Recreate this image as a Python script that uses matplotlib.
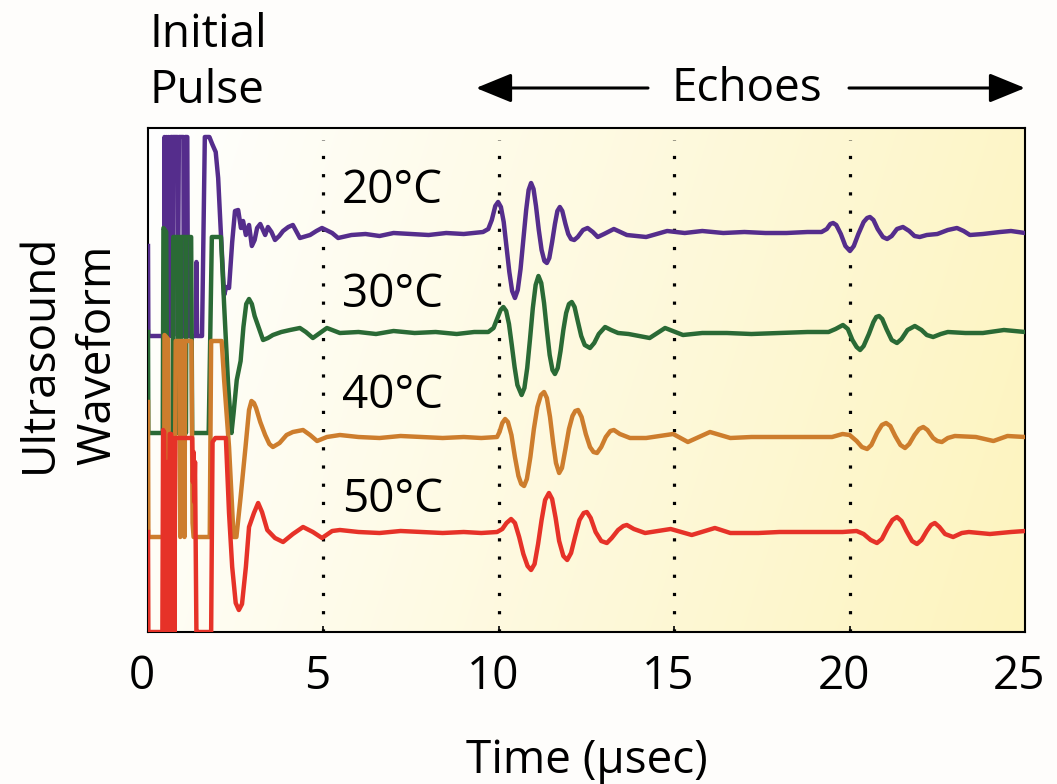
import numpy as np
import matplotlib
matplotlib.use("Agg")
import matplotlib.pyplot as plt
from matplotlib.patches import FancyArrowPatch
from matplotlib.transforms import ScaledTranslation

plt.rcParams['font.family'] = ['Open Sans', 'DejaVu Sans']

# --- oscilloscope traces (time in usec, amplitude relative to each trace's baseline) ---
t_20 = [0, 0.01, 0.46, 0.47, 0.50, 0.53, 0.56, 0.59, 0.62, 0.65, 0.69, 0.70, 0.72, 0.84, 0.85,
        0.88, 1.01, 1.02, 1.06, 1.12, 1.14, 1.36, 1.38, 1.40, 1.54, 1.62, 1.75, 1.83, 1.93, 2.00,
        2.07, 2.17, 2.23, 2.31, 2.40, 2.48, 2.57, 2.65, 2.71, 2.79, 2.88, 2.96, 3.04, 3.11, 3.20,
        3.34, 3.42, 3.52, 3.62, 3.74, 3.85, 4.00, 4.13, 4.33, 4.62, 4.80, 4.96, 5.25, 5.42, 5.8,
        6.2, 6.6, 7.0, 7.5, 8.0, 8.5, 9.0, 9.55,
        9.70, 9.80, 9.90, 9.98, 10.06, 10.14, 10.22, 10.30, 10.38, 10.46, 10.54, 10.62, 10.70,
        10.78, 10.85, 10.92, 10.99, 11.06, 11.14, 11.22, 11.30, 11.37, 11.44, 11.52, 11.60, 11.67,
        11.74, 11.81, 11.90, 11.98, 12.06, 12.15, 12.25, 12.40, 12.53, 12.68, 12.82, 13.0, 13.28,
        13.65, 14.2, 14.8, 15.3, 15.8, 16.4, 17.0, 17.6, 18.2, 18.8,
        19.2, 19.35, 19.45, 19.53, 19.62, 19.75, 19.88, 20.01, 20.12, 20.25, 20.40, 20.50, 20.58,
        20.68, 20.80, 20.95, 21.07, 21.20, 21.35, 21.52, 21.70, 21.85, 22.0, 22.2, 22.5, 22.8,
        23.06, 23.25, 23.43, 23.8, 24.29, 24.6, 25.0]
v_20 = [-0.14, -1.04, -1.04, 0.95, -1.04, 0.95, -1.04, 0.95, -1.04, 0.95, 0.95, -1.04, 0.95, 0.95, -1.04,
        0.95, 0.95, -1.04, 0.95, 0.95, -1.04, -1.04, -0.30, -1.04, -1.04, 0.95, 0.95, 0.88, 0.80, 0.54,
        0.04, -0.63, -0.55, -0.56, -0.10, 0.21, 0.22, 0.04, 0.11, -0.03, 0.07, -0.14, -0.08, 0.04, 0.08,
        -0.03, 0.05, 0.00, -0.08, -0.04, 0.01, 0.05, 0.07, -0.06, -0.03, 0.01, 0.04, -0.01, -0.06, -0.03,
        -0.02, -0.04, -0.01, -0.02, -0.03, -0.01, -0.02, 0.00,
        0.03, 0.12, 0.26, 0.30, 0.25, 0.10, -0.15, -0.40, -0.59, -0.66, -0.58, -0.37, -0.08,
        0.22, 0.42, 0.49, 0.43, 0.26, 0.02, -0.18, -0.29, -0.31, -0.26, -0.10, 0.08, 0.21,
        0.25, 0.21, 0.08, -0.02, -0.07, -0.08, -0.05, 0.02, 0.04, 0.00, -0.05, -0.02, 0.03,
        -0.03, -0.05, 0.01, -0.01, 0.01, -0.01, 0.00, -0.01, -0.01, 0.00,
        0.00, 0.03, 0.08, 0.09, 0.07, -0.02, -0.14, -0.19, -0.14, -0.02, 0.10, 0.14, 0.15,
        0.12, 0.03, -0.05, -0.07, -0.04, 0.03, 0.05, 0.01, -0.04, -0.05, -0.03, -0.02, 0.02,
        0.04, 0.01, -0.03, -0.02, 0.00, 0.01, -0.01]

t_30 = [0, 0.01, 0.42, 0.44, 0.52, 0.55, 0.70, 0.72, 0.84, 0.85, 0.87, 0.91, 0.92, 0.94, 1.07,
        1.08, 1.10, 1.23, 1.26, 1.73, 1.82, 2.08, 2.17, 2.28, 2.38, 2.44, 2.53, 2.64, 2.72, 2.80,
        2.88, 2.96, 3.04, 3.16, 3.28, 3.42, 3.56, 3.80, 4.05, 4.33, 4.50, 4.70, 4.90, 5.10, 5.47,
        6.0, 6.5, 7.0, 7.6, 8.2, 8.8, 9.3, 9.70,
        9.85, 9.95, 10.05, 10.13, 10.21, 10.29, 10.37, 10.45, 10.53, 10.65, 10.73, 10.81, 10.89,
        10.97, 11.05, 11.13, 11.21, 11.29, 11.37, 11.45, 11.53, 11.60, 11.68, 11.76, 11.84, 11.92,
        12.00, 12.08, 12.16, 12.25, 12.35, 12.45, 12.60, 12.72, 12.85, 13.03, 13.2, 13.4,
        13.7, 14.3, 14.74, 15.25, 15.8, 16.5, 17.2, 18.0, 18.8,
        19.4, 19.6, 19.81, 19.95, 20.08, 20.20, 20.30, 20.40, 20.55, 20.68, 20.76, 20.84, 20.93,
        21.05, 21.20, 21.35, 21.48, 21.65, 21.86, 22.05, 22.2, 22.38, 22.6, 22.8, 23.3, 23.8,
        24.4, 25.0]
v_30 = [0.00, -1.01, -1.01, 1.04, 1.00, -1.01, -1.01, 0.95, 0.95, -1.01, 0.95, 0.95, -1.01, 0.95, 0.95,
        -1.01, 0.95, 0.95, -1.01, -1.01, 0.95, 0.95, 0.27, -0.50, -1.01, -0.81, -0.48, -0.29, 0.05, 0.28,
        0.33, 0.28, 0.16, 0.04, -0.08, -0.06, -0.03, 0.00, 0.02, 0.04, 0.00, -0.06, -0.01, 0.04, -0.01,
        0.00, -0.02, 0.01, -0.01, 0.00, -0.02, 0.00, 0.00,
        0.04, 0.13, 0.22, 0.25, 0.21, 0.08, -0.13, -0.35, -0.53, -0.63, -0.56, -0.36, -0.07,
        0.24, 0.47, 0.56, 0.49, 0.29, 0.02, -0.23, -0.38, -0.42, -0.36, -0.19, 0.02, 0.19,
        0.28, 0.30, 0.25, 0.11, -0.04, -0.13, -0.16, -0.11, -0.02, 0.05, 0.02, -0.01,
        -0.02, -0.06, 0.04, -0.03, -0.01, -0.01, -0.02, -0.01, 0.00,
        0.00, 0.03, 0.07, 0.03, -0.08, -0.15, -0.18, -0.14, -0.02, 0.10, 0.15, 0.16, 0.13,
        0.03, -0.08, -0.11, -0.07, 0.02, 0.06, 0.02, -0.03, -0.05, -0.02, 0.00, -0.01, -0.01,
        0.02, 0.00]

t_40 = [0, 0.01, 0.46, 0.47, 0.57, 0.60, 0.76, 0.79, 0.91, 0.92, 0.94, 1.03, 1.04, 1.06, 1.24,
        1.27, 1.30, 1.76, 1.80, 1.84, 2.10, 2.17, 2.31, 2.44, 2.52, 2.64, 2.78, 2.88, 2.95, 3.02,
        3.08, 3.20, 3.34, 3.46, 3.56, 3.75, 3.95, 4.13, 4.42, 4.62, 4.82, 5.10, 5.47,
        6.0, 6.6, 7.2, 7.8, 8.4, 9.0, 9.5, 9.95,
        10.02, 10.10, 10.18, 10.26, 10.36, 10.46, 10.56, 10.64, 10.72, 10.80, 10.90, 11.00, 11.10,
        11.20, 11.29, 11.37, 11.46, 11.55, 11.63, 11.72, 11.80, 11.90, 12.00, 12.10, 12.18, 12.26,
        12.36, 12.48, 12.60, 12.70, 12.80, 12.92, 13.05, 13.18, 13.28, 13.45, 13.74, 14.2,
        14.97, 15.39, 16.02, 16.6, 17.2, 18.0, 18.8, 19.5,
        19.80, 20.0, 20.2, 20.35, 20.50, 20.62, 20.78, 20.92, 21.04, 21.16, 21.30, 21.45, 21.58,
        21.70, 21.85, 21.98, 22.10, 22.22, 22.38, 22.50, 22.63, 22.8, 23.0, 23.6, 24.1, 24.5, 25.0]
v_40 = [0.35, -1.00, -1.00, 1.02, 0.98, -1.00, -1.00, 0.96, 0.96, -1.00, 0.96, 0.96, -1.00, 0.96, 0.96,
        -0.86, -1.00, -1.00, 0.96, 0.96, 0.96, 0.57, -0.10, -1.00, -1.00, -0.60, -0.10, 0.27, 0.36, 0.34,
        0.29, 0.15, 0.02, -0.07, -0.10, -0.06, 0.02, 0.05, 0.07, 0.02, -0.04, 0.00, 0.02,
        0.00, -0.01, 0.01, 0.00, -0.01, 0.00, -0.01, 0.00,
        0.05, 0.14, 0.18, 0.15, 0.02, -0.20, -0.39, -0.47, -0.49, -0.42, -0.20, 0.08, 0.30,
        0.42, 0.45, 0.39, 0.20, -0.06, -0.26, -0.36, -0.31, -0.12, 0.08, 0.21, 0.26, 0.27,
        0.20, 0.03, -0.10, -0.15, -0.16, -0.10, 0.00, 0.06, 0.07, 0.03, -0.01, -0.01,
        0.03, -0.05, 0.05, -0.01, 0.00, 0.00, 0.00, 0.00,
        0.03, 0.02, -0.04, -0.10, -0.12, -0.08, 0.04, 0.12, 0.14, 0.11, 0.01, -0.08, -0.11,
        -0.07, 0.02, 0.08, 0.10, 0.07, -0.01, -0.04, -0.05, -0.01, 0.01, 0.00, -0.04, 0.01, 0.00]

t_50 = [0, 0.01, 0.41, 0.43, 0.46, 0.49, 0.53, 0.55, 0.58, 0.62, 0.66, 0.69, 0.72, 0.75, 0.78,
        1.26, 1.28, 1.30, 1.32, 1.34, 1.38, 1.45, 1.80, 1.84, 1.92, 2.22, 2.31, 2.40, 2.50, 2.59,
        2.68, 2.79, 2.88, 3.02, 3.14, 3.25, 3.40, 3.62, 3.85, 4.13, 4.42, 4.70, 4.96, 5.25, 5.47,
        6.0, 6.6, 7.2, 7.8, 8.4, 9.0, 9.5, 9.95,
        10.10, 10.22, 10.35, 10.46, 10.58, 10.70, 10.82, 10.92, 11.02, 11.12, 11.22, 11.32, 11.43,
        11.52, 11.62, 11.72, 11.84, 11.95, 12.06, 12.18, 12.30, 12.42, 12.51, 12.62, 12.76, 12.92,
        13.08, 13.22, 13.40, 13.55, 13.65, 13.85, 14.17, 14.9, 15.5, 16.16, 16.6, 17.4, 18.0,
        18.8, 19.8, 20.2, 20.40, 20.60, 20.78, 20.92, 21.08, 21.22, 21.35, 21.48, 21.62, 21.78,
        21.92, 22.05, 22.20, 22.32, 22.43, 22.56, 22.72, 22.95, 23.2, 23.4, 24.0, 24.6, 25.0]
v_50 = [0.00, -1.00, -1.00, 1.02, 1.00, -1.00, -1.00, 0.70, -1.00, 0.98, 0.98, -1.00, 0.94, -1.00, 0.94,
        0.94, 0.50, 0.80, 0.30, 0.70, -1.00, -1.00, -1.00, 0.90, 0.94, 0.94, 0.19, -0.35, -0.71, -0.78,
        -0.72, -0.35, 0.05, 0.19, 0.29, 0.20, 0.02, -0.06, -0.10, -0.02, 0.05, 0.00, -0.06, 0.01, 0.02,
        0.00, -0.01, 0.01, 0.00, -0.01, 0.00, -0.01, 0.00,
        0.03, 0.09, 0.13, 0.09, -0.05, -0.22, -0.34, -0.38, -0.32, -0.12, 0.12, 0.32, 0.39,
        0.33, 0.14, -0.09, -0.24, -0.28, -0.21, -0.04, 0.12, 0.19, 0.20, 0.14, 0.00, -0.09,
        -0.11, -0.06, 0.02, 0.06, 0.07, 0.03, -0.01, 0.03, -0.03, 0.04, -0.01, -0.01, 0.00,
        0.00, 0.00, 0.01, -0.02, -0.08, -0.11, -0.07, 0.04, 0.12, 0.15, 0.11, 0.01, -0.09,
        -0.12, -0.08, 0.01, 0.07, 0.09, 0.05, -0.02, -0.05, -0.01, 0.00, -0.02, 0.00, 0.01]

times = [t_20, t_30, t_40, t_50]
values = [v_20, v_30, v_40, v_50]
baselines = [4.00, 3.00, 1.95, 1.00]
temp_labels = ['20°C', '30°C', '40°C', '50°C']
label_y = [4.29, 3.25, 2.24, 1.20]
colors = ['#552d8c', '#2a6a35', '#cd7d2d', '#e63228']
grid_x = [5, 10, 15, 20]
x_ticks = [0, 5, 10, 15, 20, 25]

fig = plt.figure(figsize=(10.57, 7.84), dpi=100)
fig.patch.set_facecolor('#fefdfb')
ax = fig.add_axes([148 / 1057, 152 / 784, 877 / 1057, 504 / 784])

# white -> pale yellow wash behind the traces
gx, gy = np.meshgrid(np.linspace(0, 1, 300), np.linspace(0, 1, 300))
s = np.clip(0.85 * gx + 0.15 * (1 - gy), 0, 1)[..., None]
white = np.array([1.0, 1.0, 1.0])
yellow = np.array([253, 244, 190]) / 255
ax.imshow(white * (1 - s) + yellow * s, extent=(0, 25, 0, 5.04), origin='lower',
          aspect='auto', zorder=0, interpolation='bilinear')

ax.vlines(grid_x, 0, 4.92, colors='black', linewidth=2.3, linestyles=(0, (1, 4.7)), zorder=1)

for t, v, b, c, lab, ly in zip(times, values, baselines, colors, temp_labels, label_y):
    ax.plot(t, np.array(v) + b, color=c, lw=3.2, solid_joinstyle='round', zorder=3)
    ax.text(5.52, ly, lab, fontsize=33, va='baseline', ha='left', zorder=4)

ax.set_xlim(0, 25)
ax.set_ylim(0, 5.04)
ax.set_xticks(x_ticks)
ax.set_yticks([])
ax.tick_params(axis='x', direction='in', length=4, width=1.2, labelsize=33, pad=16)
for lbl in ax.get_xticklabels():
    lbl.set_transform(lbl.get_transform() + ScaledTranslation(-6 / 100, 0, fig.dpi_scale_trans))
for sp in ax.spines.values():
    sp.set_linewidth(1.5)
    sp.set_zorder(2)

fig.text(587 / 1057, (784 - 773) / 784, 'Time (µsec)', fontsize=33, ha='center', va='baseline')
fig.text(52 / 1057, 1 - 353 / 784, 'Ultrasound', fontsize=33, rotation=90,
         rotation_mode='anchor', ha='center', va='baseline')
fig.text(110 / 1057, 1 - 355 / 784, 'Waveform', fontsize=33, rotation=90,
         rotation_mode='anchor', ha='center', va='baseline')

fig.text(150 / 1057, 1 - 47 / 784, 'Initial', fontsize=33, ha='left', va='baseline')
fig.text(150 / 1057, 1 - 103 / 784, 'Pulse', fontsize=33, ha='left', va='baseline')
fig.text(747 / 1057, 1 - 101 / 784, 'Echoes', fontsize=33, ha='center', va='baseline')

arrow = dict(arrowstyle='-|>,head_length=1.1,head_width=0.45', color='black', lw=2.2,
             shrinkA=0, shrinkB=0, mutation_scale=20)
ay = 1 - 88 / 784
fig.add_artist(FancyArrowPatch((648 / 1057, ay), (476 / 1057, ay), transform=fig.transFigure, **arrow))
fig.add_artist(FancyArrowPatch((849 / 1057, ay), (1025 / 1057, ay), transform=fig.transFigure, **arrow))

fig.savefig('out.png', dpi=100, facecolor=fig.get_facecolor())
